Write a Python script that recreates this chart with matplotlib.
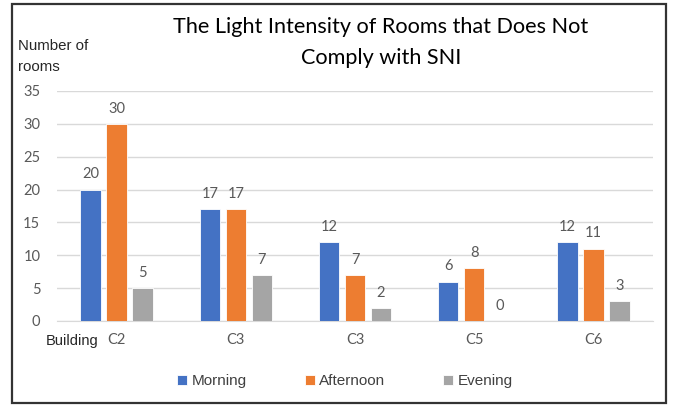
import matplotlib
matplotlib.use("Agg")
import matplotlib.pyplot as plt
import numpy as np
from matplotlib.patches import Rectangle

categories = ["C2", "C3", "C3", "C5", "C6"]
morning = [20, 17, 12, 6, 12]
afternoon = [30, 17, 7, 8, 11]
evening = [5, 7, 2, 0, 3]
series_names = ["Morning", "Afternoon", "Evening"]
colors = ["#4472C4", "#ED7D31", "#A5A5A5"]
yticks = [0, 5, 10, 15, 20, 25, 30, 35]

fig = plt.figure(figsize=(6.73, 4.12), dpi=100)
ax = fig.add_axes([57/673, 1-321/412, (653-57)/673, (321-91)/412])

x = np.arange(len(categories))
w = 0.172
step = 0.218
label_font = "Lato"
for i, (vals, name, c) in enumerate(zip([morning, afternoon, evening], series_names, colors)):
    pos = x + (i - 1) * step
    bars = ax.bar(pos, vals, width=w, color=c, edgecolor="white", linewidth=0.6, label=name, zorder=3)
    for xp, v in zip(pos, vals):
        ax.annotate(str(v), (xp, v), xytext=(0, 6), textcoords="offset points",
                    ha="center", va="bottom", fontsize=10.5, color="#595959", family=label_font)

ax.set_xlim(-0.5, len(categories) - 0.5)
ax.set_ylim(0, 35)
ax.set_yticks(yticks)
ax.set_xticks(x)
ax.set_xticklabels(categories, family=label_font, fontsize=10.5, color="#595959")
ax.set_yticklabels([str(t) for t in yticks], family=label_font, fontsize=10.5, color="#595959")
ax.tick_params(axis="both", length=0)
ax.tick_params(axis="x", pad=9)
ax.tick_params(axis="y", pad=12)
ax.grid(axis="y", color="#D9D9D9", linewidth=1, zorder=0)
for s in ["top", "right", "left"]:
    ax.spines[s].set_visible(False)
ax.spines["bottom"].set_color("#D9D9D9")
ax.spines["bottom"].set_zorder(1)

fig.text(381/673, 1-27/412, "The Light Intensity of Rooms that Does Not", ha="center", va="center",
         fontsize=15.6, family=label_font, color="black")
fig.text(381/673, 1-58/412, "Comply with SNI", ha="center", va="center",
         fontsize=15.6, family=label_font, color="black")
fig.text(18/673, 1-46/412, "Number of", ha="left", va="center", fontsize=10.8, family="Liberation Sans", color="#262626")
fig.text(18/673, 1-67/412, "rooms", ha="left", va="center", fontsize=10.8, family="Liberation Sans", color="#262626")
fig.text(46/673, 1-341/412, "Building", ha="left", va="center", fontsize=10.5, family="Liberation Sans", color="#262626")

leg = fig.legend(loc="center", bbox_to_anchor=(345/673, 1-381/412), ncol=3, frameon=False,
                 prop={"family": "Liberation Sans", "size": 11}, handlelength=0.65, handleheight=0.65,
                 handletextpad=0.3, columnspacing=3.8, labelcolor="#404040")

fig.add_artist(Rectangle((12/673, 1-403/412), (666-12)/673, (403-4)/412, transform=fig.transFigure,
                         fill=False, edgecolor="#333333", linewidth=1.6))

fig.savefig("out.png", dpi=100)
